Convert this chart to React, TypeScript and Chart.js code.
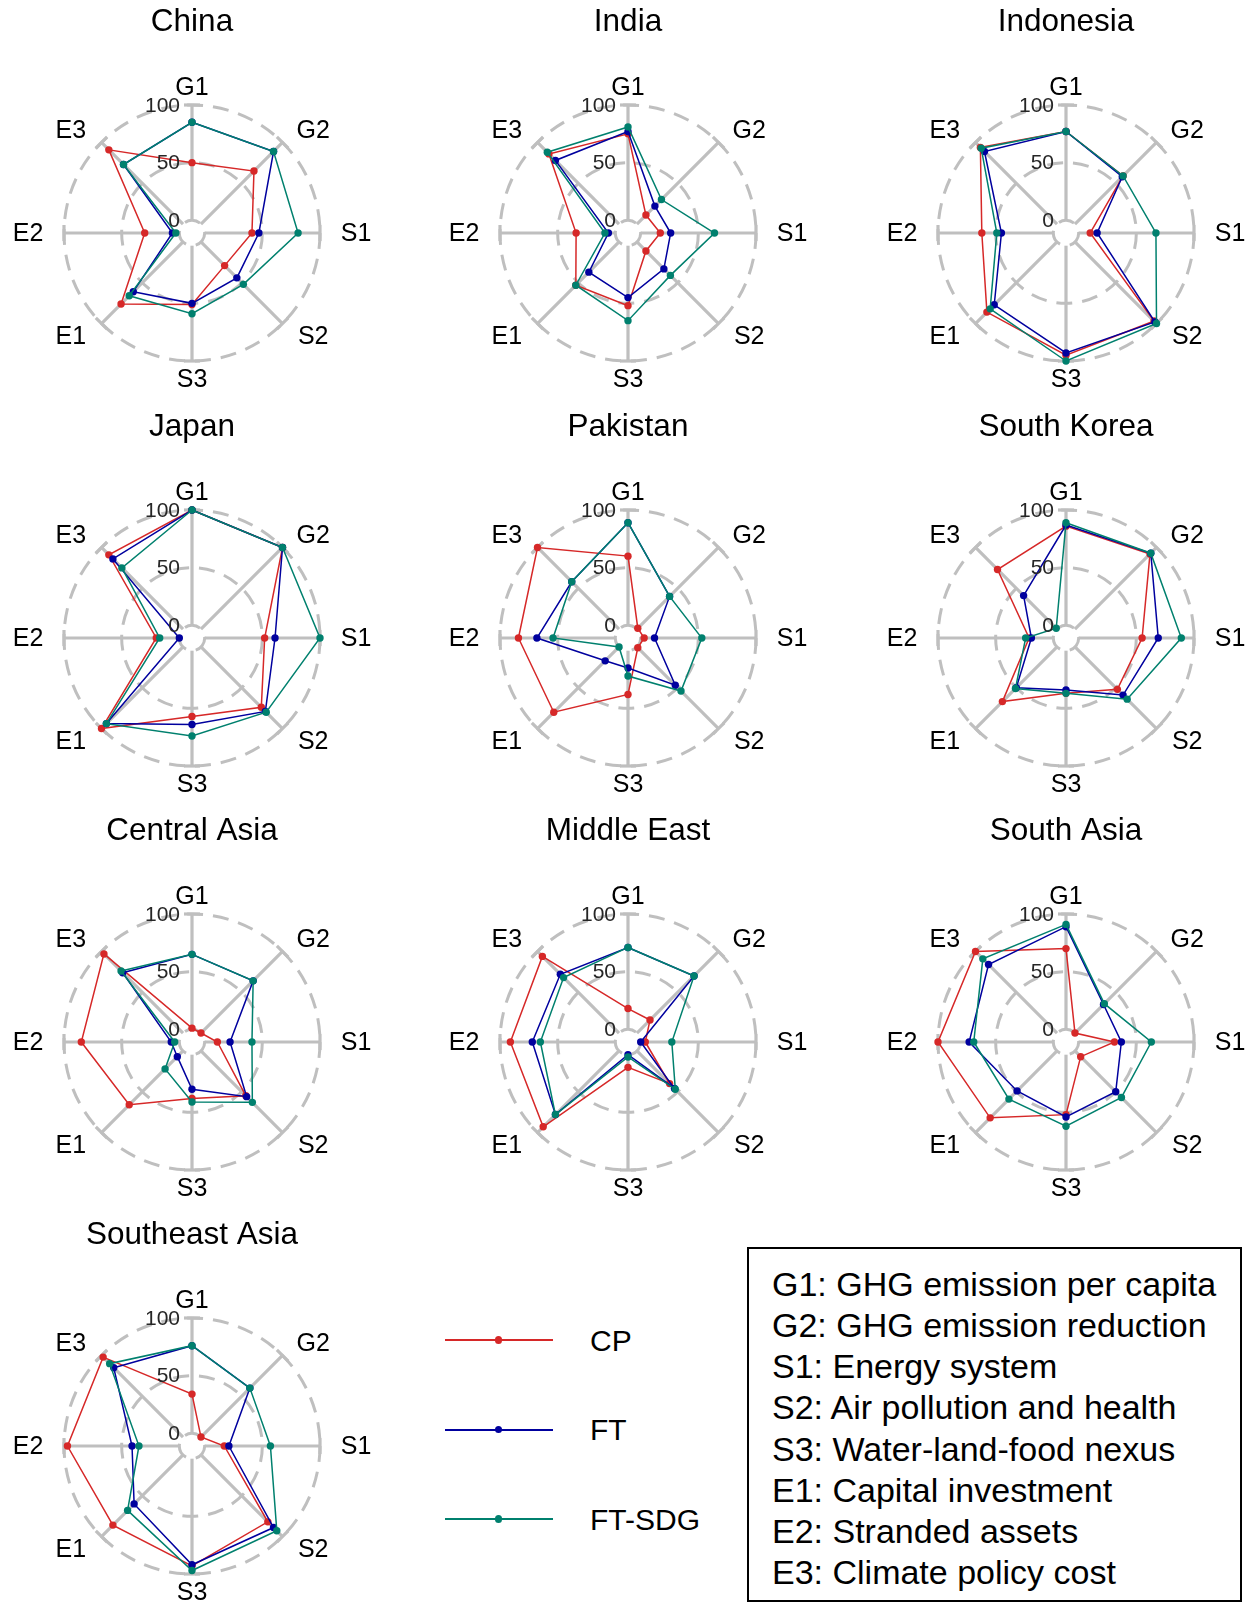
import React, { useEffect, useRef } from "react";
import { Chart, registerables } from "chart.js";

Chart.register(...registerables);

const FONT = '"Liberation Sans", Arial, Helvetica, sans-serif';

// ---- axes / ticks / series names ----
const AXES = ["G1", "G2", "S1", "S2", "S3", "E1", "E2", "E3"];
const R_TICKS = [0, 50, 100];
const SCENARIOS = ["CP", "FT", "FT-SDG"];
const COLORS = ["#d62828", "#00009e", "#00806e"];
const DEFINITIONS = [
  "G1: GHG emission per capita",
  "G2: GHG emission reduction",
  "S1: Energy system",
  "S2: Air pollution and health",
  "S3: Water-land-food nexus",
  "E1: Capital investment",
  "E2: Stranded assets",
  "E3: Climate policy cost",
];

// ---- values (order: G1, G2, S1, S2, S3, E1, E2, E3) ----
const chinaCP = [50, 65, 41, 29, 51, 76, 30, 91];
const chinaFT = [85, 89, 47, 44, 50, 61, 6, 73];
const chinaSDG = [85, 89, 81, 52, 59, 66, 3, 73];

const indiaCP = [75, 11, 17, 11, 52, 53, 34, 86];
const indiaFT = [77, 22, 26, 33, 45, 37, 6, 78];
const indiaSDG = [81, 30, 64, 41, 65, 53, 9, 88];

const indonesiaCP = [77, 59, 10, 97, 95, 86, 62, 94];
const indonesiaFT = [77, 58, 16, 98, 93, 77, 45, 89];
const indonesiaSDG = [77, 59, 67, 100, 100, 82, 49, 93];

const japanCP = [100, 100, 52, 74, 57, 100, 20, 91];
const japanFT = [100, 100, 61, 79, 64, 94, 0, 86];
const japanSDG = [100, 100, 100, 80, 74, 94, 17, 75];

const pakistanCP = [60, 1, 3, 1, 38, 80, 84, 100];
const pakistanFT = [89, 40, 12, 47, 15, 17, 68, 58];
const pakistanSDG = [89, 40, 53, 54, 22, 0, 54, 58];

const koreaCP = [86, 92, 55, 52, 37, 67, 21, 73];
const koreaFT = [87, 93, 69, 59, 34, 50, 19, 41];
const koreaSDG = [89, 93, 89, 64, 37, 51, 24, 1];

const centralAsiaCP = [1, 0, 11, 55, 38, 66, 85, 97];
const centralAsiaFT = [65, 64, 22, 56, 30, 7, 7, 74];
const centralAsiaSDG = [65, 64, 41, 63, 41, 22, 4, 76];

const middleEastCP = [18, 16, 4, 40, 11, 93, 91, 94];
const middleEastFT = [71, 70, 0, 46, 0, 78, 72, 72];
const middleEastSDG = [71, 70, 27, 47, 2, 78, 65, 68];

const southAsiaCP = [70, 0, 31, 7, 52, 82, 100, 100];
const southAsiaFT = [89, 35, 37, 50, 54, 49, 73, 84];
const southAsiaSDG = [91, 36, 63, 57, 62, 59, 69, 91];

const southeastAsiaCP = [34, 0, 17, 82, 93, 86, 97, 98];
const southeastAsiaFT = [76, 60, 21, 89, 92, 60, 41, 85];
const southeastAsiaSDG = [76, 60, 57, 93, 97, 68, 35, 90];

const REGIONS = [
  { name: "China", values: [chinaCP, chinaFT, chinaSDG] },
  { name: "India", values: [indiaCP, indiaFT, indiaSDG] },
  { name: "Indonesia", values: [indonesiaCP, indonesiaFT, indonesiaSDG] },
  { name: "Japan", values: [japanCP, japanFT, japanSDG] },
  { name: "Pakistan", values: [pakistanCP, pakistanFT, pakistanSDG] },
  { name: "South Korea", values: [koreaCP, koreaFT, koreaSDG] },
  { name: "Central Asia", values: [centralAsiaCP, centralAsiaFT, centralAsiaSDG] },
  { name: "Middle East", values: [middleEastCP, middleEastFT, middleEastSDG] },
  { name: "South Asia", values: [southAsiaCP, southAsiaFT, southAsiaSDG] },
  { name: "Southeast Asia", values: [southeastAsiaCP, southeastAsiaFT, southeastAsiaSDG] },
];

// ---- layout / style ----
const GRID = "#bfbfbf";
const CANVAS_W = 376;
const CANVAS_H = 388;
const PAD = { left: 62, right: 58, top: 104, bottom: 28 };
const COL_LEFT = [2, 438, 876];
const ROW_TOP = [1, 406, 810, 1214];
const LEGEND_Y = [1340, 1429.5, 1519];

const decorPlugin = {
  id: "decor",
  beforeDatasetsDraw(chart: any) {
    const s = chart.scales.r;
    const ctx = chart.ctx;
    const r0 = s.getDistanceFromCenterForValue(R_TICKS[0]);
    const r1 = s.getDistanceFromCenterForValue(R_TICKS[R_TICKS.length - 1]);
    ctx.save();
    ctx.strokeStyle = GRID;
    ctx.lineWidth = 3.2;
    ctx.setLineDash([]);
    ctx.lineCap = "butt";
    const n = chart.data.labels.length;
    for (let i = 0; i < n; i++) {
      const a = s.getPointPosition(i, r0);
      const b = s.getPointPosition(i, r1);
      ctx.beginPath();
      ctx.moveTo(a.x, a.y);
      ctx.lineTo(b.x, b.y);
      ctx.stroke();
      const px = -Math.sin(b.angle);
      const py = Math.cos(b.angle);
      ctx.beginPath();
      ctx.moveTo(b.x - px * 8, b.y - py * 8);
      ctx.lineTo(b.x + px * 8, b.y + py * 8);
      ctx.stroke();
    }
    ctx.restore();
  },
  afterDatasetsDraw(chart: any, _args: any, opts: any) {
    const s = chart.scales.r;
    const ctx = chart.ctx;
    const k = s.drawingArea / 128;
    ctx.save();
    ctx.textBaseline = "middle";
    // radial tick labels
    ctx.font = `21px ${FONT}`;
    ctx.fillStyle = "#262626";
    ctx.textAlign = "right";
    for (const v of R_TICKS) {
      ctx.fillText(String(v), s.xCenter - 12, s.yCenter - s.getDistanceFromCenterForValue(v) + 1);
    }
    // axis labels
    ctx.font = `25px ${FONT}`;
    ctx.fillStyle = "#000";
    ctx.textAlign = "center";
    chart.data.labels.forEach((lab: string, i: number) => {
      const p = s.getPointPosition(i, 146 * k);
      const dx = p.x - s.xCenter;
      const shift = Math.abs(dx) < 1 ? 0 : Math.sign(dx) * 18;
      ctx.fillText(lab, p.x + shift, p.y + 1);
    });
    // title
    ctx.font = `31.5px ${FONT}`;
    ctx.fillText(opts.title, s.xCenter, s.yCenter - 210.5);
    ctx.restore();
  },
};

function Radar({ title, values, left, top }: { title: string; values: number[][]; left: number; top: number }) {
  const ref = useRef<HTMLCanvasElement>(null);
  useEffect(() => {
    const chart = new Chart(ref.current as HTMLCanvasElement, {
      type: "radar",
      data: {
        labels: AXES,
        datasets: values.map((v, k) => ({
          label: SCENARIOS[k],
          data: v,
          borderColor: COLORS[k],
          backgroundColor: COLORS[k],
          pointBackgroundColor: COLORS[k],
          pointBorderColor: COLORS[k],
          pointBorderWidth: 0,
          pointRadius: 3.7,
          borderWidth: 1.5,
          fill: false,
          clip: false,
          order: 2 - k,
        })),
      },
      options: {
        responsive: false,
        animation: false,
        events: [],
        layout: { padding: PAD },
        plugins: {
          legend: { display: false },
          tooltip: { enabled: false },
          title: { display: false },
          decor: { title },
        } as any,
        scales: {
          r: {
            min: -11,
            max: 100,
            startAngle: 0,
            afterBuildTicks: (sc: any) => {
              sc.ticks = R_TICKS.map((v) => ({ value: v }));
            },
            ticks: { display: false },
            pointLabels: { display: false },
            angleLines: { display: false },
            grid: { circular: true, color: GRID, lineWidth: 3 },
            border: { dash: [16, 10] },
          } as any,
        },
      },
      plugins: [decorPlugin as any],
    });
    return () => chart.destroy();
  }, []);
  return (
    <canvas
      ref={ref}
      width={CANVAS_W}
      height={CANVAS_H}
      style={{ position: "absolute", left, top, width: CANVAS_W, height: CANVAS_H }}
    />
  );
}

export default function App() {
  return (
    <div
      style={{
        position: "absolute",
        left: 0,
        top: 0,
        width: 1253,
        height: 1604,
        overflow: "hidden",
        background: "#fff",
        fontFamily: FONT,
        color: "#000",
      }}
    >
      {REGIONS.map((r, i) => (
        <Radar key={r.name} title={r.name} values={r.values} left={COL_LEFT[i % 3]} top={ROW_TOP[Math.floor(i / 3)]} />
      ))}
      {SCENARIOS.map((name, k) => (
        <React.Fragment key={name}>
          <div
            style={{
              position: "absolute",
              left: 445,
              top: LEGEND_Y[k] - 1,
              width: 108,
              height: 2,
              background: COLORS[k],
            }}
          />
          <div
            style={{
              position: "absolute",
              left: 498.7 - 3.7,
              top: LEGEND_Y[k] - 3.7,
              width: 7.4,
              height: 7.4,
              borderRadius: "50%",
              background: COLORS[k],
            }}
          />
          <div
            style={{
              position: "absolute",
              left: 590,
              top: LEGEND_Y[k] - 17.2,
              fontSize: 30,
              lineHeight: "35px",
              whiteSpace: "nowrap",
            }}
          >
            {name}
          </div>
        </React.Fragment>
      ))}
      <div
        style={{
          position: "absolute",
          left: 747,
          top: 1247,
          width: 495,
          height: 355,
          border: "2px solid #000",
          boxSizing: "border-box",
        }}
      >
        <div
          style={{
            position: "absolute",
            left: 23,
            top: 14.8,
            fontSize: 34,
            lineHeight: "41.2px",
            whiteSpace: "nowrap",
          }}
        >
          {DEFINITIONS.map((d) => (
            <div key={d}>{d}</div>
          ))}
        </div>
      </div>
    </div>
  );
}
